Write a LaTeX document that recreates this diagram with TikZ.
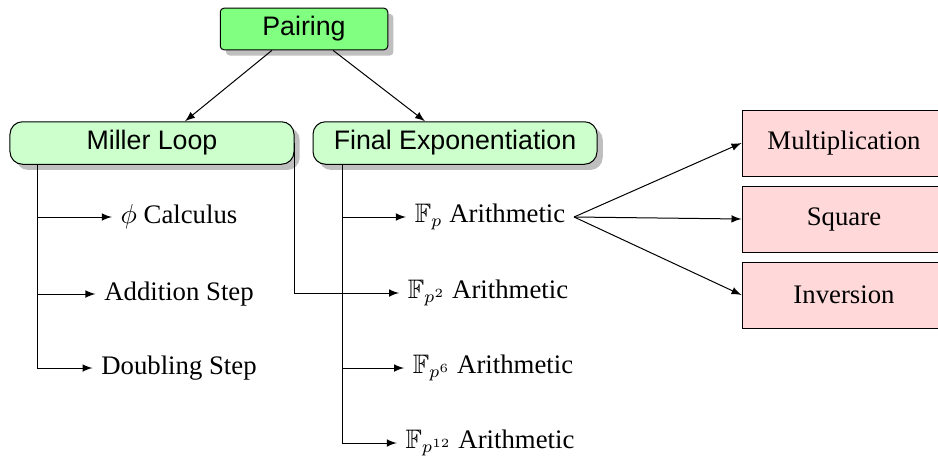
\documentclass[tikz,border=0pt]{standalone}
\usepackage{amssymb}
\usepackage{fontspec}
\setmainfont{Liberation Serif}
\setsansfont{Liberation Sans}
\usetikzlibrary{arrows}
\usetikzlibrary{shadows}
\usetikzlibrary{positioning}
\newcommand{\diagsize}{\fontsize{10.7pt}{13pt}\selectfont}
\tikzset{every node/.style = {font=\diagsize}}
\tikzset{topbox/.style = {draw, fill=green!50, rounded corners=1.5pt, drop shadow,
                          font=\sffamily\diagsize, minimum width=67pt, minimum height=16pt}}
\tikzset{partbox/.style = {draw, fill=green!20, rounded corners=5pt, drop shadow,
                           font=\sffamily\diagsize, minimum width=113.6pt, minimum height=17pt}}
\tikzset{opbox/.style = {draw, fill=red!15, minimum width=81.6pt, minimum height=26.4pt}}

\begin{document}
\begin{tikzpicture}[x=0.4pt, y=-0.4pt]
      \useasboundingbox (0, 0) rectangle (938, 460);

      \node [topbox] (pair) at (304, 29) {Pairing};
      \node [partbox] (ml) at (152, 143) {Miller Loop};
      \node [partbox] (fe) at (455, 143) {Final Exponentiation};

      \node (phi) at (179, 217) {$\phi$ Calculus};
      \node (add) at (179, 294) {Addition Step};
      \node (dbl) at (179, 368) {Doubling Step};

      \node (fp) at (490, 217) {$\mathbb{F}_p$ Arithmetic};
      \node (fp2) at (488, 293) {$\mathbb{F}_{p^2}$ Arithmetic};
      \node (fp6) at (493, 368) {$\mathbb{F}_{p^6}$ Arithmetic};
      \node (fp12) at (490, 443) {$\mathbb{F}_{p^{12}}$ Arithmetic};

      \node [opbox] (mul) at (844, 143) {Multiplication};
      \node [opbox] (sqr) at (844, 219) {Square};
      \node [opbox] (inv) at (844, 295) {Inversion};

      \draw [-latex] ([xshift=-12.8pt]pair.south) -- ([xshift=13.2pt]ml.north);
      \draw [-latex] ([xshift=11.6pt]pair.south) -- ([xshift=-12pt]fe.north);

      \draw [-latex] ([xshift=11.2pt]ml.south west) |- (phi);
      \draw [-latex] ([xshift=11.2pt]ml.south west) |- (add);
      \draw [-latex] ([xshift=11.2pt]ml.south west) |- (dbl);
      \draw [-latex] (ml.east) |- (fp2);

      \draw [-latex] ([xshift=12pt]fe.south west) |- (fp);
      \draw [-latex] ([xshift=12pt]fe.south west) |- (fp6);
      \draw [-latex] ([xshift=12pt]fe.south west) |- (fp12);

      \draw [-latex] (fp.east) -- (mul.west);
      \draw [-latex] (fp.east) -- (sqr.west);
      \draw [-latex] (fp.east) -- (inv.west);
    \end{tikzpicture}
\end{document}
